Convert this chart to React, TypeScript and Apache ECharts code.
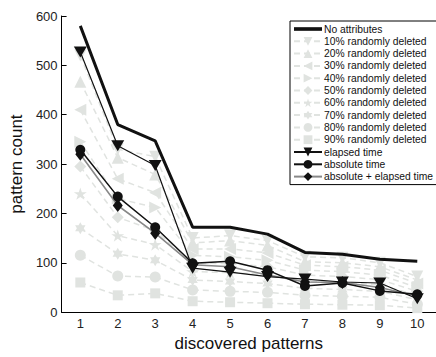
import React, { useEffect, useRef } from "react";
import * as echarts from "echarts";

const categories = ["1", "2", "3", "4", "5", "6", "7", "8", "9", "10"];
const yTicks = { min: 0, max: 600, interval: 100 };

const noAttributes = [580, 380, 347, 172, 172, 158, 121, 117, 107, 103];
const p10 = [520, 330, 315, 150, 155, 145, 112, 110, 100, 72];
const p20 = [467, 313, 279, 140, 145, 135, 102, 100, 92, 65];
const p30 = [410, 270, 242, 128, 128, 120, 95, 92, 85, 58];
const p40 = [345, 230, 212, 115, 112, 105, 85, 82, 75, 50];
const p50 = [295, 192, 165, 100, 98, 92, 75, 72, 66, 42];
const p60 = [240, 155, 137, 82, 80, 76, 62, 60, 55, 34];
const p70 = [170, 118, 105, 65, 62, 58, 48, 46, 42, 25];
const p80 = [115, 73, 71, 45, 42, 40, 34, 32, 30, 16];
const p90 = [60, 34, 38, 22, 20, 18, 16, 15, 14, 8];
const elapsedTime = [527, 337, 297, 89, 81, 72, 67, 61, 59, 27];
const absoluteTime = [329, 234, 172, 99, 103, 85, 53, 59, 43, 36];
const absElapsed = [320, 216, 160, 96, 92, 75, 61, 60, 50, 32];

const STAR5 =
  "path://M100,0L122.45,69.1L195.1,69.1L136.3,111.8L158.8,180.9L100,138.2L41.2,180.9L63.7,111.8L4.9,69.1L77.55,69.1Z";
const STAR6 =
  "path://M100,0L128.87,50L186.6,50L157.7,100L186.6,150L128.87,150L100,200L71.13,150L13.4,150L42.3,100L13.4,50L71.13,50Z";
const THICK_LINE = "path://M0,0L100,0L100,13L0,13Z";

const GREY = "#e0e3e0";
const FONT = "Liberation Sans, Arial, Helvetica, sans-serif";

export default function App() {
  const ref = useRef<HTMLDivElement>(null);
  useEffect(() => {
    document.body.style.margin = "0";
    const chart = echarts.init(ref.current!, null, { renderer: "svg" });
    const greySeries = (name: string, data: number[], symbol: string, rotate = 0, size = 11) => ({
      name,
      type: "line",
      data,
      symbol,
      symbolRotate: rotate,
      symbolSize: size,
      symbolKeepAspect: true,
      itemStyle: { color: GREY, borderWidth: 0 },
      lineStyle: { color: GREY, width: 1.5, type: [6, 4] },
      z: 2,
    });
    chart.setOption({
      animation: false,
      textStyle: { fontFamily: FONT },
      grid: { left: 55, top: 16, width: 384, height: 303 },
      xAxis: {
        type: "category",
        data: categories,
        boundaryGap: true,
        name: "discovered patterns",
        nameLocation: "middle",
        nameGap: 16,
        nameTextStyle: { fontSize: 17, color: "#111", fontFamily: FONT, verticalAlign: "top" },
        axisLine: { lineStyle: { color: "#000", width: 1 } },
        axisTick: { inside: true, alignWithLabel: true, length: 5, lineStyle: { color: "#000" } },
        axisLabel: { fontSize: 13, color: "#222", margin: 5, fontFamily: FONT },
        splitLine: { show: false },
      },
      yAxis: {
        type: "value",
        min: yTicks.min,
        max: yTicks.max,
        interval: yTicks.interval,
        name: "pattern count",
        nameLocation: "middle",
        nameGap: 28,
        nameTextStyle: { fontSize: 17, color: "#111", fontFamily: FONT },
        axisLine: { show: true, lineStyle: { color: "#000", width: 1 } },
        axisTick: { show: true, inside: true, length: 5, lineStyle: { color: "#000" } },
        axisLabel: { fontSize: 13, color: "#222", margin: 4, fontFamily: FONT },
        splitLine: { show: false },
      },
      legend: {
        orient: "vertical",
        left: 290,
        top: 21,
        itemWidth: 28,
        itemHeight: 11,
        itemGap: 2.3,
        padding: [3, 4, 3, 3],
        borderColor: "#000",
        borderWidth: 1,
        borderRadius: 0,
        backgroundColor: "#fff",
        textStyle: { fontSize: 10.3, color: "#111", fontFamily: FONT, padding: [0, 0, 0, -3] },
        data: [
          { name: "No attributes", icon: THICK_LINE },
          "10% randomly deleted",
          "20% randomly deleted",
          "30% randomly deleted",
          "40% randomly deleted",
          "50% randomly deleted",
          "60% randomly deleted",
          "70% randomly deleted",
          "80% randomly deleted",
          "90% randomly deleted",
          "elapsed time",
          "absolute time",
          "absolute + elapsed time",
        ],
      },
      series: [
        greySeries("10% randomly deleted", p10, "triangle", 180, 12),
        greySeries("20% randomly deleted", p20, "triangle", 0, 12),
        greySeries("30% randomly deleted", p30, "triangle", 90, 12),
        greySeries("40% randomly deleted", p40, "triangle", -90, 12),
        greySeries("50% randomly deleted", p50, "diamond", 0, 12),
        greySeries("60% randomly deleted", p60, STAR5, 0, 13),
        greySeries("70% randomly deleted", p70, STAR6, 0, 12),
        greySeries("80% randomly deleted", p80, "circle", 0, 11),
        greySeries("90% randomly deleted", p90, "rect", 0, 10),
        {
          name: "absolute + elapsed time",
          type: "line",
          data: absElapsed,
          symbol: "diamond",
          symbolSize: [10, 13],
          itemStyle: { color: "#111" },
          lineStyle: { color: "#888", width: 1.6 },
          z: 5,
        },
        {
          name: "absolute time",
          type: "line",
          data: absoluteTime,
          symbol: "circle",
          symbolSize: 10,
          itemStyle: { color: "#111" },
          lineStyle: { color: "#111", width: 1.5 },
          z: 6,
        },
        {
          name: "elapsed time",
          type: "line",
          data: elapsedTime,
          symbol: "triangle",
          symbolRotate: 180,
          symbolSize: [13, 11],
          itemStyle: { color: "#111" },
          lineStyle: { color: "#111", width: 1.2 },
          z: 7,
        },
        {
          name: "No attributes",
          type: "line",
          data: noAttributes,
          symbol: "none",
          showSymbol: false,
          itemStyle: { color: "#111" },
          lineStyle: { color: "#111", width: 3 },
          z: 8,
        },
      ],
    });
    return () => chart.dispose();
  }, []);
  return <div ref={ref} style={{ position: "absolute", left: 0, top: 0, width: 436, height: 357 }} />;
}
